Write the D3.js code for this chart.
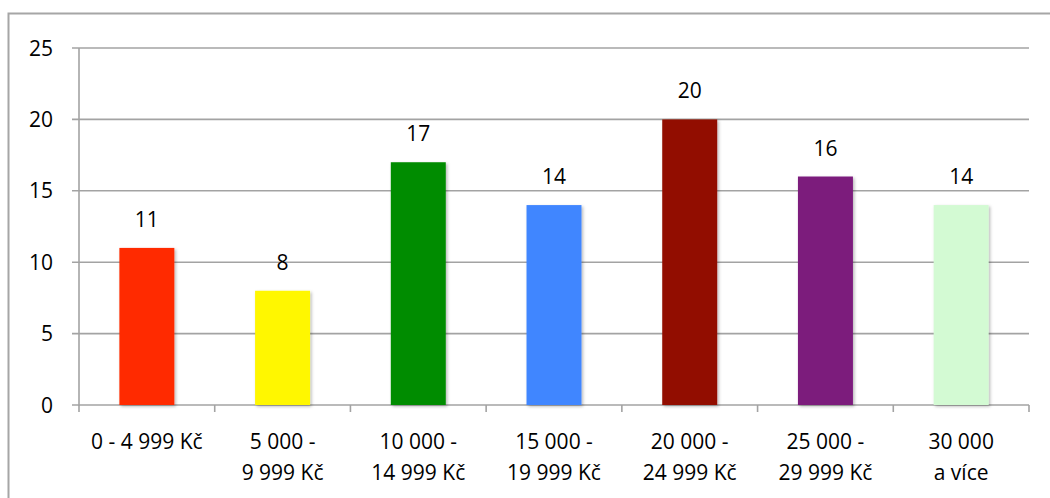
<!DOCTYPE html>
<html>
<head>
<meta charset="utf-8">
<script src="https://cdn.jsdelivr.net/npm/d3@7"></script>
<style>
  html, body { margin: 0; padding: 0; background: #fff; }
  svg { display: block; }
  text { font-family: "Open Sans", "Noto Sans", sans-serif; fill: #000; }
</style>
</head>
<body>
<svg id="chart" width="1050" height="498"></svg>
<script>
// Income brackets (two-line labels) and respondent counts
const categories = [
  ["0 - 4 999 Kč"],
  ["5 000 -", "9 999 Kč"],
  ["10 000 -", "14 999 Kč"],
  ["15 000 -", "19 999 Kč"],
  ["20 000 -", "24 999 Kč"],
  ["25 000 -", "29 999 Kč"],
  ["30 000", "a více"]
];
const values = [11, 8, 17, 14, 20, 16, 14];
const barColors = ["#ff2a00", "#fff700", "#008c00", "#4086ff", "#921100", "#7b1b7c", "#d3fad3"];
const yTicks = [0, 5, 10, 15, 20, 25];

const svg = d3.select("#chart");
const W = 1050, H = 498;
const plot = { left: 79, right: 1029, top: 48, bottom: 405 };
const fontSize = 21;

// Drop shadow under bars
const defs = svg.append("defs");
const f = defs.append("filter").attr("id", "shadow")
  .attr("x", "-20%").attr("y", "-10%").attr("width", "140%").attr("height", "120%");
f.append("feDropShadow").attr("dx", 1.5).attr("dy", 1.5).attr("stdDeviation", 1.6)
  .attr("flood-color", "#000").attr("flood-opacity", 0.28);

// Outer chart frame
svg.append("rect")
  .attr("x", 8.5).attr("y", 13.5).attr("width", W + 20).attr("height", H + 20)
  .attr("fill", "none").attr("stroke", "#a6a6a6").attr("stroke-width", 2);

const x = d3.scaleBand()
  .domain(d3.range(categories.length))
  .range([plot.left, plot.right])
  .paddingInner(0.595).paddingOuter(0.2975);

const xOuter = d3.scaleBand()
  .domain(d3.range(categories.length))
  .range([plot.left, plot.right]);

const y = d3.scaleLinear().domain([0, 25]).range([plot.bottom, plot.top]);

const grid = "#a3a3a3";

// Horizontal gridlines with ticks extending left of the axis
svg.append("g").selectAll("line").data(yTicks).join("line")
  .attr("x1", plot.left - 7).attr("x2", plot.right)
  .attr("y1", d => y(d)).attr("y2", d => y(d))
  .attr("stroke", grid).attr("stroke-width", 1.6);

// Y axis line
svg.append("line")
  .attr("x1", plot.left).attr("x2", plot.left)
  .attr("y1", plot.top).attr("y2", plot.bottom + 0.8)
  .attr("stroke", grid).attr("stroke-width", 1.6);

// Category separator ticks under the baseline
const bounds = d3.range(categories.length + 1).map(i => plot.left + i * xOuter.step());
svg.append("g").selectAll("line").data(bounds).join("line")
  .attr("x1", d => d).attr("x2", d => d)
  .attr("y1", plot.bottom).attr("y2", plot.bottom + 7)
  .attr("stroke", grid).attr("stroke-width", 1.6);

// Y tick labels
svg.append("g").selectAll("text").data(yTicks).join("text")
  .attr("x", 53).attr("y", d => y(d))
  .attr("dy", "0.36em")
  .attr("text-anchor", "end")
  .attr("font-size", fontSize)
  .text(d => d);

// Bars
svg.append("g").selectAll("rect").data(values).join("rect")
  .attr("x", (d, i) => x(i))
  .attr("width", x.bandwidth())
  .attr("y", d => y(d))
  .attr("height", d => y(0) - y(d))
  .attr("fill", (d, i) => barColors[i])
  .attr("filter", "url(#shadow)");

// Value labels above bars
svg.append("g").selectAll("text").data(values).join("text")
  .attr("x", (d, i) => x(i) + x.bandwidth() / 2)
  .attr("y", d => y(d) - 21)
  .attr("text-anchor", "middle")
  .attr("font-size", fontSize)
  .text(d => d);

// Category labels (one or two lines)
const lab = svg.append("g").selectAll("text").data(categories).join("text")
  .attr("x", (d, i) => x(i) + x.bandwidth() / 2)
  .attr("y", 449)
  .attr("text-anchor", "middle")
  .attr("font-size", fontSize);
lab.selectAll("tspan").data(d => d).join("tspan")
  .attr("x", function () { return this.parentNode.getAttribute("x"); })
  .attr("dy", (d, j) => j === 0 ? 0 : 31)
  .text(d => d);
</script>
</body>
</html>
